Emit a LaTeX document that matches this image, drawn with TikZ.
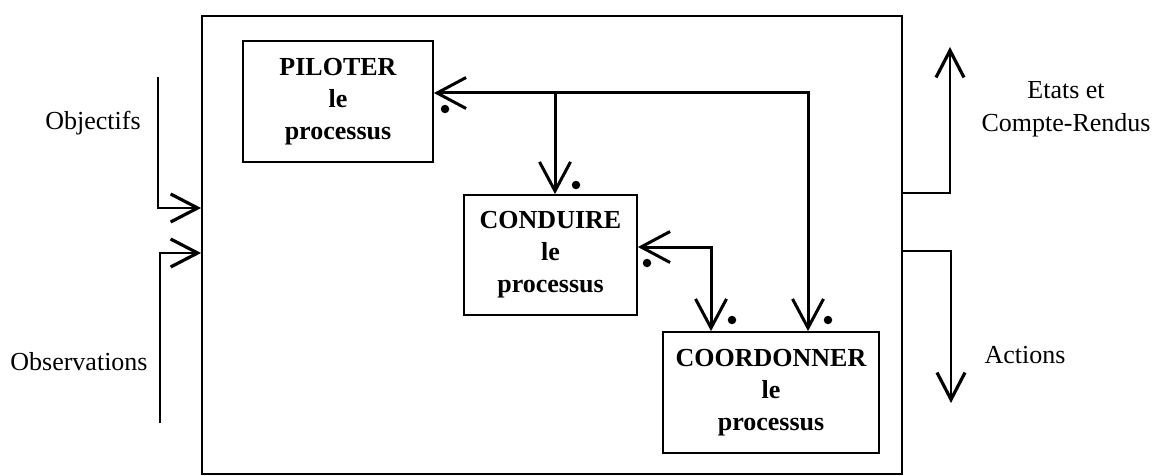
\documentclass[tikz,border=0pt]{standalone}
\usepackage{fontspec}
\setmainfont{Liberation Serif}
\usetikzlibrary{arrows.meta}
\begin{document}
\begin{tikzpicture}[x=1pt,y=-1pt,
  >={Straight Barb[length=29pt,width=31pt]},
  box/.style={draw, line width=1.8pt, rectangle, inner sep=0pt, font=\fontsize{26}{32}\selectfont\bfseries, align=center},
  lbl/.style={font=\fontsize{26}{33}\selectfont, align=center, inner sep=0pt},
  flow/.style={line width=3pt},
  io/.style={line width=1.6pt, -{Straight Barb[length=27pt,width=28pt,line width=3.2pt]}},
  dotmark/.style={circle, fill, inner sep=0pt, minimum size=8.5pt}]
\useasboundingbox (0,0) rectangle (1174,476);
% outer system box
\node[draw, line width=1.8pt, minimum width=700pt, minimum height=458pt, inner sep=0pt] (sys) at (552,245) {};
% inner boxes
\node[box, minimum width=190pt, minimum height=121pt] (pil) at (338,101.5) {PILOTER\\le\\processus};
\node[box, minimum width=173pt, minimum height=120pt] (con) at (550.5,255) {CONDUIRE\\le\\processus};
\node[box, minimum width=216pt, minimum height=121pt] (coo) at (771,392.5) {COORDONNER\\le\\processus};
% internal connectors
\coordinate (j1) at (555,93);
\coordinate (j2) at (808,93);
\coordinate (k) at (711,247);
\draw[flow, <->] (j2 -| pil.east) -- (j2) -- (j2 |- coo.north);
\draw[flow, ->] (j1) -- (j1 |- con.north);
\draw[flow, <->] (k -| con.east) -- (k) -- (k |- coo.north);
% dots
\node[dotmark] (d1) at (445,109) {};
\node[dotmark] (d2) at (576,185) {};
\node[dotmark] (d3) at (647,263) {};
\node[dotmark] (d4) at (732,320) {};
\node[dotmark] (d5) at (828,320) {};
% inputs
\coordinate (o1) at (158,77);
\coordinate (o2) at (158,208);
\draw[io] (o1) -- (o2) -- (o2 -| sys.west);
\coordinate (b1) at (160,423);
\coordinate (b2) at (160,253);
\draw[io] (b1) -- (b2) -- (b2 -| sys.west);
% outputs
\coordinate (e1) at (950,193);
\coordinate (e2) at (950,47);
\draw[io] (e1 -| sys.east) -- (e1) -- (e2);
\coordinate (a1) at (951,251);
\coordinate (a2) at (951,403);
\draw[io] (a1 -| sys.east) -- (a1) -- (a2);
% labels
\node[lbl] (tobj) at (93,123) {Objectifs};
\node[lbl] (tobs) at (79,362) {Observations};
\node[lbl] (tetat) at (1066,109) {Etats et\\Compte-Rendus};
\node[lbl] (tact) at (1025,355) {Actions};
\end{tikzpicture}
\end{document}
